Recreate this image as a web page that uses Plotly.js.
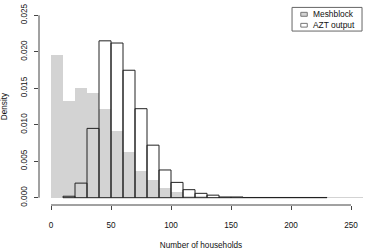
<!DOCTYPE html>
<html>
<head>
<meta charset="utf-8">
<script src="https://cdn.plot.ly/plotly-3.0.1.min.js"></script>
<style>html,body{margin:0;padding:0;background:#fff;}#chart{width:378px;height:250px;}</style>
</head>
<body>
<div id="chart"></div>
<script>
// Bin left edges (width 10) and densities
var meshStarts = [0,10,20,30,40,50,60,70,80,90,100,110,120,130,140,150,160,170,180,190,200,210,220,230,240,250];
var meshDensity = [0.0195,0.0132,0.0151,0.0144,0.0122,0.0091,0.0062,0.0037,0.0024,0.00135,0.00075,0.0003,0.0002,0.0001,0.0001,0.0001,0.00006,0.00006,0.00005,0.00005,0.00005,0.00004,0.00004,0.00004,0.00004,0.00004];
var aztStarts = [10,20,30,40,50,60,70,80,90,100,110,120,130,140,150,160,170,180,190,200,210,220];
var aztDensity = [0.0002,0.0020,0.0095,0.0215,0.0212,0.01747,0.0122,0.0072,0.0038,0.0021,0.0011,0.0006,0.00035,0.0001,0.0001,0.00003,0.00003,0.00003,0.00003,0.00003,0.00003,0.00003];
var binWidth = 10;
var xTicks = [0,50,100,150,200,250];
var yTicks = [0,0.005,0.010,0.015,0.020,0.025];
var yTickText = ["0.000","0.005","0.010","0.015","0.020","0.025"];
var seriesNames = ["Meshblock","AZT output"];

var font = "Liberation Sans, Arial, Helvetica, sans-serif";

var traces = [
  {type:'bar', name:seriesNames[0], x:meshStarts, y:meshDensity, width:binWidth, offset:0,
   marker:{color:'#d3d3d3', line:{width:0}}, showlegend:false, hoverinfo:'x+y'},
  {type:'bar', name:seriesNames[1], x:aztStarts, y:aztDensity, width:binWidth, offset:0,
   marker:{color:'rgba(0,0,0,0)', line:{width:1, color:'#222'}}, showlegend:false, hoverinfo:'x+y'}
];

var axisColor = '#444';
var layout = {
  width:378, height:250,
  margin:{l:39, r:15, t:8, b:45},
  paper_bgcolor:'#fff', plot_bgcolor:'#fff',
  barmode:'overlay', bargap:0,
  font:{family:font, size:8.2, color:'#111'},
  xaxis:{range:[-10,260], tickvals:xTicks, ticktext:xTicks.map(String), ticks:'outside', ticklen:4, tickcolor:axisColor,
         ticklabelstandoff:8,
         showline:false, showgrid:false, zeroline:false,
         title:{text:'Number of households', font:{size:8.2}, standoff:16}},
  yaxis:{range:[-0.001,0.026], tickvals:yTicks, ticktext:yTickText, ticks:'outside', ticklen:4, tickcolor:axisColor,
         ticklabelstandoff:4,
         tickangle:-90, showline:false, showgrid:false, zeroline:false,
         title:{text:'Density', font:{size:8.2}, standoff:11}},
  shapes:[
    // axis lines spanning tick range (R style)
    {type:'line', xref:'x', yref:'paper', x0:xTicks[0], x1:xTicks[xTicks.length-1], y0:0, y1:0, line:{color:axisColor, width:1}},
    {type:'line', xref:'paper', yref:'y', x0:0, x1:0, y0:yTicks[0], y1:yTicks[yTicks.length-1], line:{color:axisColor, width:1}},
    // legend box
    {type:'rect', xref:'paper', yref:'paper', x0:0.781, x1:0.997, y0:0.883, y1:1.003, line:{color:'#666', width:1}, fillcolor:'#fff'},
    {type:'rect', xref:'paper', yref:'paper', x0:0.808, x1:0.828, y0:0.958, y1:0.978, line:{color:'#777', width:1}, fillcolor:'#d3d3d3'},
    {type:'rect', xref:'paper', yref:'paper', x0:0.808, x1:0.828, y0:0.903, y1:0.922, line:{color:'#777', width:1}, fillcolor:'#fff'}
  ],
  annotations:[
    {xref:'paper', yref:'paper', x:0.84, y:0.940, xanchor:'left', yanchor:'middle', align:'left',
     text:seriesNames[0] + '<br>' + seriesNames[1], showarrow:false, font:{size:8.4, color:'#111'}}
  ]
};

Plotly.newPlot('chart', traces, layout, {staticPlot:true, displayModeBar:false});
</script>
</body>
</html>
